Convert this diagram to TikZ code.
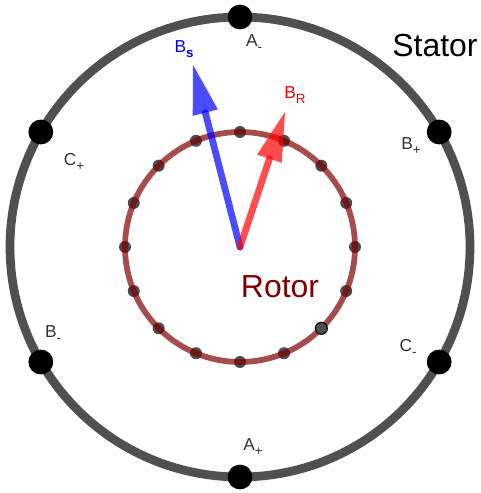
\documentclass[tikz,border=0pt]{standalone}
\usepackage{fontspec}
\setmainfont{Liberation Sans}
\usetikzlibrary{arrows.meta}
\definecolor{statorgray}{RGB}{80,80,80}
\definecolor{rotormaroon}{RGB}{128,0,0}
\definecolor{fieldblue}{RGB}{0,0,255}
\definecolor{fieldred}{RGB}{255,0,0}
\newcommand{\windlabel}[2]{#1\raisebox{-0.6ex}{\fontsize{9.5}{9.5}\selectfont #2}}

\begin{document}
\begin{tikzpicture}[
    statordot/.style={circle, fill=black, inner sep=0pt, minimum size=0.62cm},
    rotordot/.style={circle, fill=black, fill opacity=0.7, inner sep=0pt, minimum size=0.3cm},
    gapdot/.style={circle, draw=black, fill=statorgray, thick, inner sep=0pt, minimum size=0.3cm},
    winding/.style={font=\fontsize{12.3}{13}\selectfont, inner sep=0pt, text=black!80},
    bigname/.style={font=\fontsize{22.7}{24}\selectfont, inner sep=0pt},
    fieldvec/.style={-{Triangle[width=18.5pt, length=35pt, line width=0pt]}, line width=4.8pt, line cap=round, opacity=0.7}
]
    \useasboundingbox (-6,-6.15) rectangle (6,6.175);
    \coordinate (centre) at (0,0);
    \coordinate (tipS) at (-1.175,4.55);
    \coordinate (tipR) at (1.125,3.375);

    % Stator ring and slots
    \draw[statorgray, line width=6.2pt] (centre) circle (5.75);
    \foreach \a in {30,90,150,210,270,330}
        \node[statordot] (s\a) at (\a:5.75) {};

    % Rotor ring, the dots sit under it
    \foreach \a in {0,22.5,45,67.5,90,112.5,135,157.5,180,202.5,225,247.5,270,292.5,337.5}
        \node[rotordot] (r\a) at (\a:2.875) {};
    \draw[rotormaroon, opacity=0.7, line width=4.1pt] (centre) circle (2.875);
    \node[gapdot] (rgap) at (315:2.875) {};

    \draw[fieldvec, fieldblue] (centre) -- (tipS);
    \draw[fieldvec, fieldred] (centre) -- (tipR);

    \node[bigname] (stator) at (4.875,5.025) {Stator};
    \node[bigname, text=rotormaroon] (rotor) at (1,-1) {Rotor};

    \node[winding] (aminus) at (0.35,5.1) {\windlabel{A}{-}};
    \node[winding] (aplus) at (0.325,-5) {\windlabel{A}{+}};
    \node[winding] (bplus) at (4.275,2.525) {\windlabel{B}{+}};
    \node[winding] (cplus) at (-4.15,2.125) {\windlabel{C}{+}};
    \node[winding] (bminus) at (-4.675,-2.175) {\windlabel{B}{-}};
    \node[winding] (cminus) at (4.2,-2.525) {\windlabel{C}{-}};
    \node[winding, text=fieldblue] (bs) at (-1.4,4.95) {\windlabel{B}{\textbf{s}}};
    \node[winding, text=fieldred] (br) at (1.375,3.8) {\windlabel{B}{R}};
\end{tikzpicture}
\end{document}
